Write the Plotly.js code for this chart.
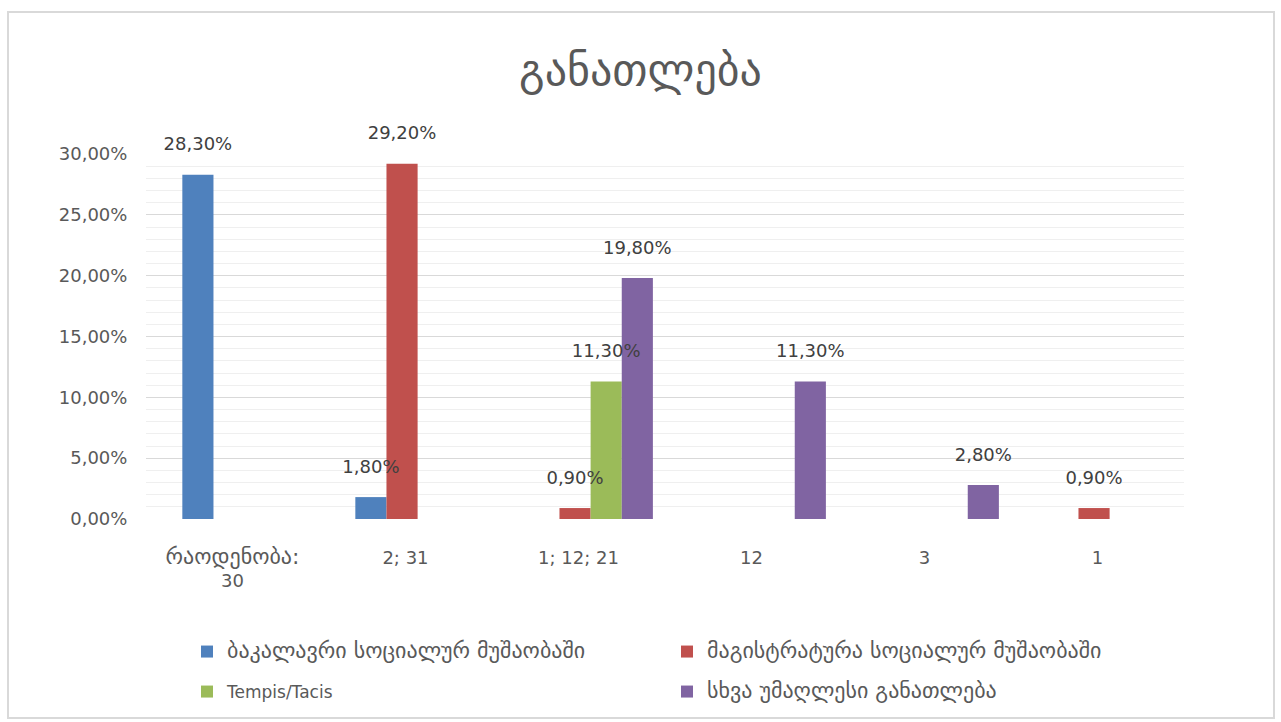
<!DOCTYPE html>
<html>
<head>
<meta charset="utf-8">
<script src="https://cdn.plot.ly/plotly-3.0.1.min.js"></script>
<style>
html, body { margin: 0; padding: 0; background: #ffffff; }
#wrap { position: relative; width: 1281px; height: 722px; }
#chart { width: 1281px; height: 722px; }
#frame { position: absolute; left: 7px; top: 11px; width: 1268px; height: 708px;
  border: 2px solid #d9d9d9; box-sizing: border-box; pointer-events: none; }
</style>
</head>
<body>
<div id="wrap"><div id="chart"></div><div id="frame"></div></div>
<script>
const categories = ["რაოდენობა:<br>30", "2; 31", "1; 12; 21", "12", "3", "1"];
const seriesNames = [
  "ბაკალავრი სოციალურ მუშაობაში",
  "მაგისტრატურა სოციალურ მუშაობაში",
  "Tempis/Tacis",
  "სხვა უმაღლესი განათლება"
];
const bachelor = [28.3, 1.8, null, null, null, null];
const master   = [null, 29.2, 0.9, null, null, 0.9];
const tempis   = [null, null, 11.3, null, null, null];
const other    = [null, null, 19.8, 11.3, 2.8, null];
const colors = ["#4F81BD", "#C0504D", "#9BBB59", "#8064A2"];
const offsets = [-0.29, -0.11, 0.07, 0.25];
const barWidth = 0.18;
const legendOf = ["legend", "legend", "legend2", "legend2"];
const values = [bachelor, master, tempis, other];

const font = "'DejaVu Sans', sans-serif";
const hasGeorgian = s => /[\u10A0-\u10FF]/.test(s);
// Georgian script in the reference is set in a wider face; enlarge it a little
const geo = (s, size) => s.split("<br>").map(line =>
  hasGeorgian(line) ? '<span style="font-size:' + size + 'px">' + line + '</span>' : line
).join("<br>");

const barTraces = values.map((v, i) => ({
  type: "bar",
  x: categories,
  y: v,
  name: geo(seriesNames[i], 22),
  marker: { color: colors[i] },
  offset: offsets[i],
  width: barWidth,
  cliponaxis: false,
  legend: legendOf[i],
  hoverinfo: "skip"
}));

// data labels drawn above all bars (so neighbouring bars never hide them)
const labelTraces = values.map((v, i) => ({
  type: "scatter",
  mode: "markers+text",
  xaxis: "x2",
  x: categories.map((c, k) => k + offsets[i] + barWidth / 2),
  y: v,
  marker: { size: 30, opacity: 0, color: colors[i] },
  texttemplate: "%{y:.2f}%",
  textposition: "top center",
  textfont: { family: font, size: 18, color: "#404040" },
  cliponaxis: false,
  showlegend: false,
  hoverinfo: "skip"
}));

const layout = {
  width: 1281,
  height: 722,
  margin: { l: 146, r: 97, t: 154, b: 203 },
  paper_bgcolor: "#ffffff",
  plot_bgcolor: "#ffffff",
  separators: ", ",
  barmode: "overlay",
  title: {
    text: "განათლება",
    x: 0.5, xref: "container", xanchor: "center",
    y: 1 - 70 / 722, yref: "container", yanchor: "middle",
    font: { family: font, size: 44, color: "#595959" }
  },
  xaxis: {
    type: "category",
    range: [-0.5, categories.length - 0.5],
    showgrid: false,
    zeroline: false,
    showline: false,
    ticks: "outside", ticklen: 22, tickcolor: "rgba(0,0,0,0)",
    tickfont: { family: font, size: 18, color: "#595959" },
    tickvals: categories,
    ticktext: categories.map(c => geo(c, 22)),
    fixedrange: true
  },
  xaxis2: {
    type: "linear",
    overlaying: "x",
    range: [-0.5, categories.length - 0.5],
    visible: false,
    fixedrange: true
  },
  yaxis: {
    range: [0, 30],
    dtick: 5,
    tickformat: ".2f",
    ticksuffix: "%",
    showgrid: true,
    gridcolor: "#d9d9d9",
    gridwidth: 1,
    minor: { dtick: 1, showgrid: true, gridcolor: "#efefef", gridwidth: 1 },
    zeroline: false,
    showline: false,
    ticks: "outside", ticklen: 14, tickcolor: "rgba(0,0,0,0)",
    tickfont: { family: font, size: 18, color: "#595959" },
    fixedrange: true
  },
  legend: {
    orientation: "h",
    x: (187 - 146) / 1038, xanchor: "left",
    y: (519 - 652) / 365, yanchor: "middle",
    entrywidth: 435, entrywidthmode: "pixels",
    itemwidth: 30,
    font: { family: font, size: 17, color: "#595959" },
    bgcolor: "rgba(0,0,0,0)"
  },
  legend2: {
    orientation: "h",
    x: (187 - 146) / 1038, xanchor: "left",
    y: (519 - 692) / 365, yanchor: "middle",
    entrywidth: 435, entrywidthmode: "pixels",
    itemwidth: 30,
    font: { family: font, size: 17, color: "#595959" },
    bgcolor: "rgba(0,0,0,0)"
  },
  showlegend: true
};

Plotly.newPlot("chart", barTraces.concat(labelTraces), layout, { displayModeBar: false, staticPlot: true });
</script>
</body>
</html>
